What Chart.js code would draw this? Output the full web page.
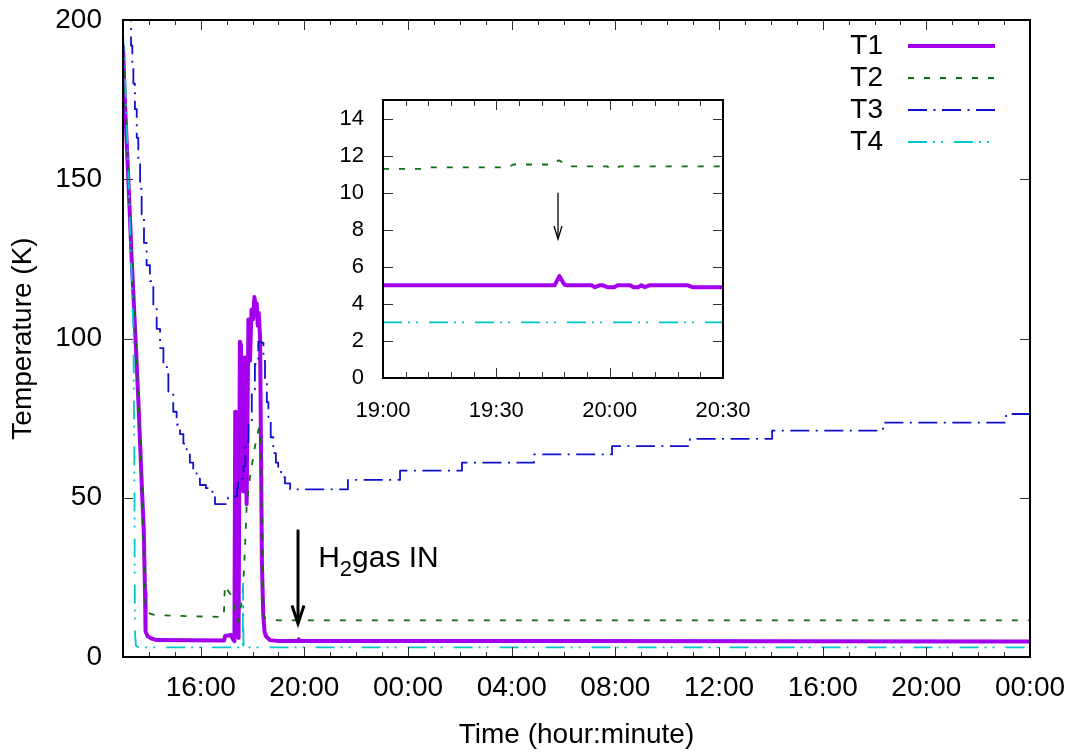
<!DOCTYPE html>
<html>
<head>
<meta charset="utf-8">
<title>Temperature log</title>
<script src="https://cdn.jsdelivr.net/npm/chart.js@4.4.0/dist/chart.umd.min.js"></script>
<style>
  html, body { margin: 0; padding: 0; background: #fff; }
  #wrap { position: relative; width: 1077px; height: 755px; }
  #main { position: absolute; left: 0; top: 0; }
  #inset { position: absolute; left: 300px; top: 80px; }
</style>
</head>
<body>
<div id="wrap">
  <canvas id="main" width="1077" height="755"></canvas>
  <canvas id="inset" width="460" height="360"></canvas>
</div>
<script>
// time = hours counted from midnight of the first day (24 -> 00:00 next day)
var xTicks = [16, 20, 24, 28, 32, 36, 40, 44, 48];
var xTickLabels = ['16:00', '20:00', '00:00', '04:00', '08:00', '12:00', '16:00', '20:00', '00:00'];
var yTicks = [0, 50, 100, 150, 200];

var insetXTicks = [19, 19.5, 20, 20.5];
var insetXTickLabels = ['19:00', '19:30', '20:00', '20:30'];
var insetYTicks = [0, 2, 4, 6, 8, 10, 12, 14];

// [time, K]
var t1 = [[13.0, 192], [13.08, 173], [13.2, 151], [13.34, 124], [13.46, 104], [13.59, 81], [13.72, 55],
  [13.80, 40], [13.85, 20], [13.87, 8], [13.95, 6.5], [14.1, 5.8], [14.3, 5.3], [16.9, 5.2], [16.94, 6.6],
  [17.17, 6.9], [17.24, 5.6], [17.30, 5.0], [17.33, 77], [17.35, 76], [17.39, 8], [17.46, 6], [17.51, 99],
  [17.55, 98], [17.64, 52], [17.69, 94], [17.77, 48], [17.84, 106], [17.90, 93], [17.96, 109],
  [18.02, 106], [18.07, 113], [18.12, 110], [18.16, 111], [18.20, 104], [18.24, 108], [18.29, 100],
  [18.31, 100], [18.36, 30], [18.41, 13.7], [18.46, 8], [18.52, 6.5], [18.67, 5.3], [19.0, 5.0],
  [19.757, 5.0], [19.78, 5.6], [19.81, 5.0], [30, 5.0], [48, 4.9]];
var t2 = [[13.0, 194], [13.08, 174], [13.2, 152], [13.34, 125], [13.46, 105], [13.59, 82], [13.72, 56],
  [13.80, 30], [13.86, 17], [13.92, 14], [14.2, 13.2], [15.5, 12.8], [16.89, 12.6], [16.93, 22.5],
  [17.0, 21.5], [17.2, 19], [17.32, 14.8], [17.44, 11], [17.52, 14], [17.63, 21], [17.70, 33],
  [17.77, 47], [17.90, 56.6], [18.09, 66], [18.22, 71], [18.25, 72], [18.30, 70], [18.35, 55.6],
  [18.39, 34.6], [18.41, 13.7], [18.48, 12.2], [18.7, 11.8], [19.0, 11.5], [48, 11.5]];
var t3 = [[13.25, 205], [13.31, 192], [13.36, 186], [13.40, 180], [13.46, 172], [13.53, 163], [13.59, 155],
  [13.66, 147], [13.72, 139], [13.81, 130], [13.91, 123], [14.04, 118], [14.17, 110], [14.30, 103],
  [14.43, 97], [14.56, 91], [14.75, 83], [14.94, 77], [15.07, 73], [15.20, 70], [15.33, 67], [15.46, 64.5],
  [15.58, 61], [15.71, 58], [15.84, 56], [15.97, 54], [16.2, 53], [16.45, 51], [16.55, 48], [17.05, 50],
  [17.32, 50.5], [17.4, 53], [17.44, 55.6], [17.58, 56], [17.65, 60], [17.72, 66], [17.84, 74],
  [17.97, 84], [18.09, 92], [18.22, 99], [18.35, 98.6], [18.42, 93], [18.48, 87], [18.55, 80],
  [18.61, 74.4], [18.7, 69], [18.80, 64], [18.9, 61], [18.99, 58.7], [19.1, 56.5], [19.25, 54.5],
  [19.45, 52.6], [21.68, 55.6], [23.69, 58.5], [26.08, 61.0], [28.86, 63.6], [31.87, 66.2],
  [34.88, 68.5], [38.05, 71.1], [42.33, 73.6], [47.08, 76.3], [48, 76.3]];
var t4 = [[13.0, 196], [13.1, 178], [13.2, 153], [13.3, 127], [13.40, 103], [13.44, 60], [13.46, 8],
  [13.50, 3.5], [13.6, 3.0], [17.62, 3.0], [17.635, 23], [17.65, 3.0], [48, 3.0]];

// zoomed window 19:00 - 20:30
var insetT1 = [[19.0, 5.0], [19.757, 5.0], [19.778, 5.5], [19.80, 5.05], [19.81, 5.0], [19.92, 5.0],
  [19.935, 4.9], [19.955, 5.0], [19.97, 5.0], [19.99, 4.9], [20.02, 4.9], [20.035, 5.0], [20.09, 5.0],
  [20.105, 4.9], [20.125, 4.9], [20.14, 5.0], [20.155, 4.9], [20.175, 5.0], [20.345, 5.0],
  [20.365, 4.9], [20.5, 4.9]];
var insetT2 = [[19.0, 11.28], [19.17, 11.28], [19.19, 11.36], [19.55, 11.36], [19.575, 11.52],
  [19.75, 11.52], [19.775, 11.75], [19.825, 11.42], [19.99, 11.42], [20.0, 11.3], [20.02, 11.3],
  [20.045, 11.42], [20.5, 11.42]];
var insetT4 = [[19.0, 3.0], [20.5, 3.0]];

// H2 inlet marker
var gasInTime = 19.77;
var gasArrowMain = [40, 10.5];
var gasArrowInset = [10, 7.5];
var gasLabelAt = [20.53, 28.3];

var FONT = '"Liberation Sans", Arial, Helvetica, sans-serif';
Chart.defaults.font.family = FONT;
Chart.defaults.color = '#000';

var styles = {
  T1: { color: '#a400ee', width: 4, dash: [] },
  T2: { color: '#0f6e0f', width: 1.8, dash: [6, 10] },
  T3: { color: '#1010cc', width: 1.8, dash: [19, 6.5, 2, 6.5] },
  T4: { color: '#00c8cc', width: 1.8, dash: [19, 6, 2, 6, 2, 11] }
};

function line(name, points, order, extra) {
  var s = styles[name];
  return Object.assign({
    label: name,
    data: points.map(function (p) { return { x: p[0], y: p[1] }; }),
    borderColor: s.color,
    borderWidth: s.width,
    borderDash: s.dash,
    borderJoinStyle: 'round',
    pointRadius: 0,
    tension: 0,
    fill: false,
    order: order
  }, extra || {});
}

function drawArrow(ctx, x, yFrom, yTo, lw, headLen, headHalf) {
  ctx.save();
  ctx.strokeStyle = '#000';
  ctx.lineWidth = lw;
  ctx.lineCap = 'butt';
  ctx.lineJoin = 'miter';
  ctx.beginPath();
  ctx.moveTo(x, yFrom);
  ctx.lineTo(x, yTo - lw);
  ctx.stroke();
  ctx.beginPath();
  ctx.moveTo(x - headHalf, yTo - headLen);
  ctx.lineTo(x, yTo);
  ctx.lineTo(x + headHalf, yTo - headLen);
  ctx.stroke();
  ctx.restore();
}

// gnuplot style frame with inward ticks on all four sides
var frameTicks = {
  id: 'frameTicks',
  afterDraw: function (chart, args, o) {
    var ctx = chart.ctx, a = chart.chartArea;
    var xs = chart.scales.x, ys = chart.scales.y;
    ctx.save();
    ctx.strokeStyle = '#333';
    ctx.lineWidth = 1;
    ctx.beginPath();
    function xt(v, len) {
      var px = Math.round(xs.getPixelForValue(v)) + 0.5;
      ctx.moveTo(px, a.bottom); ctx.lineTo(px, a.bottom - len);
      ctx.moveTo(px, a.top); ctx.lineTo(px, a.top + len);
    }
    function yt(v, len) {
      var py = Math.round(ys.getPixelForValue(v)) + 0.5;
      ctx.moveTo(a.left, py); ctx.lineTo(a.left + len, py);
      ctx.moveTo(a.right, py); ctx.lineTo(a.right - len, py);
    }
    o.xMajor.forEach(function (v) { xt(v, o.majorLen); });
    var n = Math.round((xs.max - xs.min) / o.xMinorStep);
    for (var k = 1; k < n; k++) {
      var v = xs.min + k * o.xMinorStep;
      var isMajor = o.xMajor.some(function (m) { return Math.abs(m - v) < 1e-6; });
      if (!isMajor) xt(v, o.minorLen);
    }
    o.yMajor.forEach(function (v) { yt(v, o.majorLen); });
    ctx.stroke();
    ctx.strokeStyle = '#000';
    ctx.lineWidth = o.border;
    ctx.strokeRect(a.left, a.top, a.right - a.left, a.bottom - a.top);
    ctx.restore();
  }
};

var keyBox = {
  id: 'keyBox',
  afterDraw: function (chart, args, o) {
    var ctx = chart.ctx;
    ctx.save();
    ctx.font = o.fontSize + 'px ' + FONT;
    ctx.textAlign = 'right';
    ctx.textBaseline = 'middle';
    chart.data.datasets.forEach(function (ds, i) {
      var y = o.top + i * o.rowGap;
      ctx.fillStyle = '#000';
      ctx.fillText(ds.label, o.textRight, y);
      ctx.strokeStyle = ds.borderColor;
      ctx.lineWidth = ds.borderWidth;
      ctx.setLineDash(ds.borderDash);
      ctx.beginPath();
      ctx.moveTo(o.lineFrom, y);
      ctx.lineTo(o.lineTo, y);
      ctx.stroke();
    });
    ctx.restore();
  }
};

var gasMarker = {
  id: 'gasMarker',
  afterDatasetsDraw: function (chart, args, o) {
    var ctx = chart.ctx, xs = chart.scales.x, ys = chart.scales.y;
    var x = Math.round(xs.getPixelForValue(gasInTime));
    drawArrow(ctx, x, ys.getPixelForValue(o.arrow[0]), ys.getPixelForValue(o.arrow[1]),
      o.lineWidth, o.headLen, o.headHalf);
    if (o.label) {
      var lx = xs.getPixelForValue(gasLabelAt[0]);
      var ly = ys.getPixelForValue(gasLabelAt[1]);
      ctx.save();
      ctx.fillStyle = '#000';
      ctx.textAlign = 'left';
      ctx.textBaseline = 'alphabetic';
      ctx.font = o.fontSize + 'px ' + FONT;
      ctx.fillText('H', lx, ly);
      var w = ctx.measureText('H').width;
      ctx.font = Math.round(o.fontSize * 0.72) + 'px ' + FONT;
      ctx.fillText('2', lx + w, ly + o.fontSize * 0.3);
      var w2 = ctx.measureText('2').width;
      ctx.font = o.fontSize + 'px ' + FONT;
      ctx.fillText('gas IN', lx + w + w2, ly);
      ctx.restore();
    }
  }
};

function tickLabel(values, labels) {
  return function (v) {
    for (var i = 0; i < values.length; i++) {
      if (Math.abs(values[i] - v) < 1e-6) return labels[i];
    }
    return '';
  };
}

// pin the plot areas: scales get fixed sizes and no extra label padding
function fixHeight(h) {
  return function (s) { s.height = h; s.paddingLeft = 0; s.paddingRight = 0; };
}
function fixWidth(w) {
  return function (s) { s.width = w; s.paddingTop = 0; s.paddingBottom = 0; };
}

new Chart(document.getElementById('main'), {
  type: 'line',
  data: {
    datasets: [
      line('T1', t1, 4),
      line('T2', t2, 3),
      line('T3', t3, 2, { stepped: true }),
      line('T4', t4, 1)
    ]
  },
  options: {
    responsive: false,
    animation: false,
    events: [],
    layout: { padding: { top: 20, right: 47, left: 0, bottom: 0 } },
    plugins: {
      legend: { display: false },
      tooltip: { enabled: false },
      frameTicks: { xMajor: xTicks, yMajor: yTicks, xMinorStep: 1, majorLen: 10, minorLen: 5, border: 2 },
      keyBox: { fontSize: 28, top: 46, rowGap: 32, textRight: 883, lineFrom: 908, lineTo: 995 },
      gasMarker: { arrow: gasArrowMain, lineWidth: 3, headLen: 18, headHalf: 6, label: true, fontSize: 30 }
    },
    scales: {
      x: {
        type: 'linear',
        min: 13,
        max: 48,
        grid: { display: false, drawTicks: false },
        border: { display: false },
        afterBuildTicks: function (s) { s.ticks = xTicks.map(function (v) { return { value: v }; }); },
        afterFit: fixHeight(98),
        ticks: {
          autoSkip: false, maxRotation: 0, padding: 14, font: { size: 28 },
          callback: tickLabel(xTicks, xTickLabels)
        },
        title: { display: true, text: 'Time (hour:minute)', font: { size: 28 }, padding: { top: 0, bottom: 3 } }
      },
      y: {
        min: 0,
        max: 200,
        grid: { display: false, drawTicks: false },
        border: { display: false },
        afterBuildTicks: function (s) { s.ticks = yTicks.map(function (v) { return { value: v }; }); },
        afterFit: fixWidth(123),
        ticks: { padding: 21, font: { size: 28 } },
        title: { display: true, text: 'Temperature (K)', font: { size: 28 }, padding: { top: 6, bottom: 0 } }
      }
    }
  },
  plugins: [frameTicks, keyBox, gasMarker]
});

new Chart(document.getElementById('inset'), {
  type: 'line',
  data: {
    datasets: [
      line('T1', insetT1, 4),
      line('T2', insetT2, 3),
      line('T4', insetT4, 1)
    ]
  },
  options: {
    responsive: false,
    animation: false,
    events: [],
    layout: { padding: { top: 20, right: 37, left: 0, bottom: 0 } },
    plugins: {
      legend: { display: false },
      tooltip: { enabled: false },
      frameTicks: { xMajor: insetXTicks, yMajor: insetYTicks, xMinorStep: 0.1, majorLen: 10, minorLen: 6, border: 2 },
      gasMarker: { arrow: gasArrowInset, lineWidth: 1.3, headLen: 13, headHalf: 4, label: false }
    },
    scales: {
      x: {
        type: 'linear',
        min: 19,
        max: 20.5,
        grid: { display: false, drawTicks: false },
        border: { display: false },
        afterBuildTicks: function (s) { s.ticks = insetXTicks.map(function (v) { return { value: v }; }); },
        afterFit: fixHeight(62),
        ticks: {
          autoSkip: false, maxRotation: 0, padding: 20, font: { size: 22 },
          callback: tickLabel(insetXTicks, insetXTickLabels)
        }
      },
      y: {
        min: 0,
        max: 15,
        grid: { display: false, drawTicks: false },
        border: { display: false },
        afterBuildTicks: function (s) { s.ticks = insetYTicks.map(function (v) { return { value: v }; }); },
        afterFit: fixWidth(83),
        ticks: { padding: 19, font: { size: 22 } }
      }
    }
  },
  plugins: [frameTicks, gasMarker]
});
</script>
</body>
</html>
